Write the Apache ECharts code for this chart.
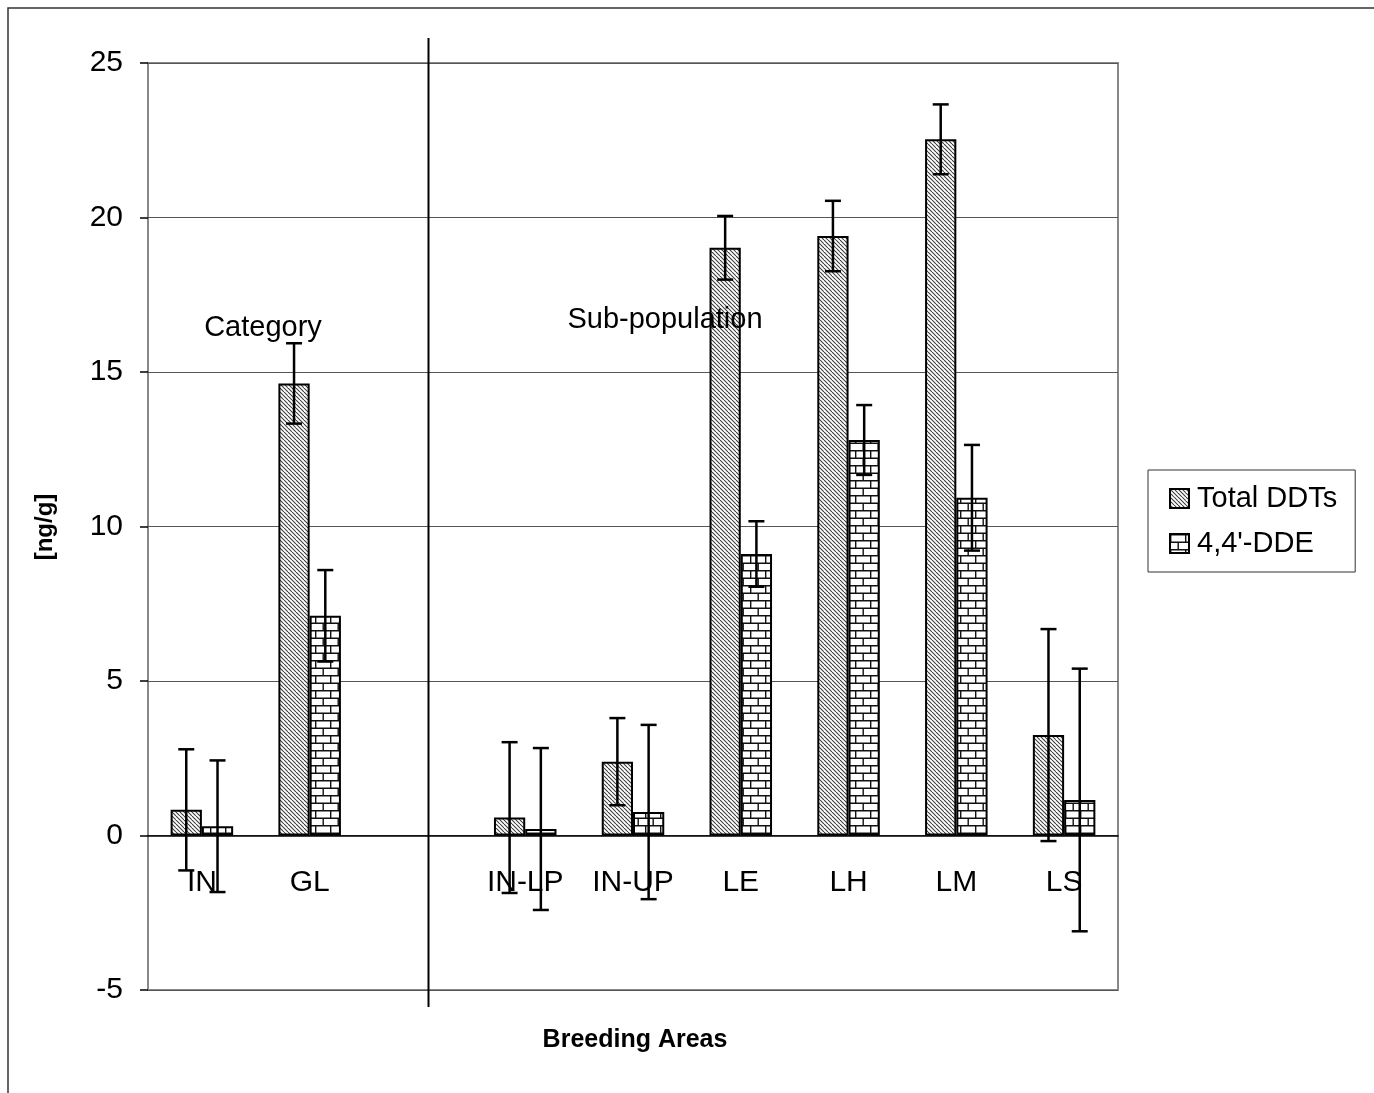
<!DOCTYPE html>
<html>
<head>
<meta charset="utf-8">
<script src="https://cdn.jsdelivr.net/npm/echarts@6/dist/echarts.min.js"></script>
<style>
html, body { margin: 0; padding: 0; background: #fff; }
#main { width: 1374px; height: 1093px; }
</style>
</head>
<body>
<div id="main"></div>
<script>
// data
var categories = ['IN', 'GL', '', 'IN-LP', 'IN-UP', 'LE', 'LH', 'LM', 'LS'];
var totalDDTs = [0.83, 14.63, null, 0.58, 2.39, 19.02, 19.40, 22.53, 3.25];
var totalErr = [1.96, 1.30, null, 2.44, 1.41, 1.03, 1.14, 1.13, 3.43];
var dde = [0.30, 7.11, null, 0.21, 0.76, 9.11, 12.80, 10.93, 1.15];
var ddeErr = [2.13, 1.48, null, 2.62, 2.82, 1.06, 1.13, 1.71, 4.25];
var yMin = -5, yMax = 25, yStep = 5;

var FONT = '"Liberation Sans", Arial, sans-serif';
var BAR_SHARE = 0.29; // each bar, as part of the category band
var GRID = { left: 148, right: 256, top: 63, bottom: 103 };
var plotH = 1093 - GRID.top - GRID.bottom;
// category axis sits on the zero line
var xAxisOffset = -(0 - yMin) / (yMax - yMin) * plotH;

function makeHatch() {
	var c = document.createElement('canvas');
	c.width = 8; c.height = 8;
	var g = c.getContext('2d');
	g.fillStyle = '#fff';
	g.fillRect(0, 0, 8, 8);
	g.strokeStyle = '#3a3a3a';
	g.lineWidth = 1.05;
	for (var k = -8; k <= 16; k += 4) {
		g.beginPath();
		g.moveTo(k, 0);
		g.lineTo(k + 8, 8);
		g.stroke();
	}
	return c;
}

function makeBrick() {
	var c = document.createElement('canvas');
	c.width = 15; c.height = 15;
	var g = c.getContext('2d');
	g.fillStyle = '#fff';
	g.fillRect(0, 0, 15, 15);
	g.strokeStyle = '#111';
	g.lineWidth = 1.4;
	g.beginPath();
	g.moveTo(0, 0.7); g.lineTo(15, 0.7);
	g.moveTo(0, 8.2); g.lineTo(15, 8.2);
	g.moveTo(0.7, 0); g.lineTo(0.7, 8.2);
	g.moveTo(8.2, 8.2); g.lineTo(8.2, 15);
	g.stroke();
	return c;
}

function errData(vals, errs) {
	var out = [];
	for (var i = 0; i < vals.length; i++) {
		if (vals[i] != null) out.push([i, vals[i], errs[i]]);
	}
	return out;
}

function errorBars(side) {
	return function (params, api) {
		var idx = api.value(0);
		var band = api.size([1, 0])[0];
		var dx = side * band * BAR_SHARE / 2;
		var hi = api.coord([idx, api.value(1) + api.value(2)]);
		var lo = api.coord([idx, api.value(1) - api.value(2)]);
		var x = hi[0] + dx;
		var cap = 8;
		var st = { stroke: '#000', lineWidth: 2.5 };
		return {
			type: 'group',
			children: [
				{ type: 'line', shape: { x1: x, y1: hi[1], x2: x, y2: lo[1] }, style: st },
				{ type: 'line', shape: { x1: x - cap, y1: hi[1], x2: x + cap, y2: hi[1] }, style: st },
				{ type: 'line', shape: { x1: x - cap, y1: lo[1], x2: x + cap, y2: lo[1] }, style: st }
			]
		};
	};
}

var chart = echarts.init(document.getElementById('main'));
var hatch = { image: makeHatch(), repeat: 'repeat' };
var brick = { image: makeBrick(), repeat: 'repeat' };

option = {
	animation : false,
	backgroundColor : '#fff',
	textStyle : { fontFamily : FONT },
	grid : {
		left : GRID.left,
		right : GRID.right,
		top : GRID.top,
		bottom : GRID.bottom,
		show : true,
		borderColor : '#888',
		borderWidth : 2,
		backgroundColor : 'transparent'
	},
	legend : {
		orient : 'vertical',
		left : 1148,
		top : 470,
		padding : [ 14, 18, 14, 21 ],
		itemWidth : 19,
		itemHeight : 19,
		itemGap : 16,
		borderColor : '#333',
		borderWidth : 1,
		borderRadius : 0,
		icon : 'rect',
		textStyle : { fontFamily : FONT, fontSize : 29, color : '#000', padding : [ 0, 0, 0, 3 ] },
		data : [ 'Total DDTs', "4,4'-DDE" ]
	},
	xAxis : {
		type : 'category',
		data : categories,
		position : 'bottom',
		offset : xAxisOffset,
		axisLine : { onZero : false, lineStyle : { color : '#000', width : 1.5 } },
		axisTick : { show : false },
		splitLine : { show : false },
		axisLabel : { fontFamily : FONT, fontSize : 30, color : '#000', margin : 32, interval : 0 }
	},
	yAxis : {
		type : 'value',
		min : yMin,
		max : yMax,
		interval : yStep,
		axisLine : { show : false },
		axisTick : { show : true, length : 8, lineStyle : { color : '#000', width : 1.5 } },
		splitLine : { show : true, lineStyle : { color : '#555', width : 1 } },
		axisLabel : { fontFamily : FONT, fontSize : 30, color : '#000', margin : 25 }
	},
	series : [ {
		name : 'Total DDTs',
		type : 'bar',
		data : totalDDTs,
		barGap : '0%',
		barCategoryGap : ((1 - 2 * BAR_SHARE) * 100) + '%',
		itemStyle : { color : hatch, borderColor : '#000', borderWidth : 2 },
		z : 2
	}, {
		name : "4,4'-DDE",
		type : 'bar',
		data : dde,
		itemStyle : { color : brick, borderColor : '#000', borderWidth : 2 },
		z : 2
	}, {
		name : 'err-total',
		type : 'custom',
		data : errData(totalDDTs, totalErr),
		renderItem : errorBars(-1),
		encode : { x : 0, y : 1 },
		z : 5
	}, {
		name : 'err-dde',
		type : 'custom',
		data : errData(dde, ddeErr),
		renderItem : errorBars(1),
		encode : { x : 0, y : 1 },
		z : 5
	} ],
	graphic : [ {
		type : 'rect',
		shape : { x : 8, y : 8, width : 1400, height : 1200 },
		style : { fill : 'none', stroke : '#333', lineWidth : 1.5 },
		silent : true,
		z : 0
	}, {
		type : 'line',
		shape : { x1 : 428.5, y1 : 38, x2 : 428.5, y2 : 1007 },
		style : { stroke : '#000', lineWidth : 2 },
		z : 10
	}, {
		type : 'text',
		x : 263, y : 328,
		style : { text : 'Category', font : '29px ' + FONT, fill : '#000', align : 'center', verticalAlign : 'middle' },
		z : 10
	}, {
		type : 'text',
		x : 665, y : 320,
		style : { text : 'Sub-population', font : '29px ' + FONT, fill : '#000', align : 'center', verticalAlign : 'middle' },
		z : 10
	}, {
		type : 'text',
		x : 635, y : 1040,
		style : { text : 'Breeding Areas', font : 'bold 25px ' + FONT, fill : '#000', align : 'center', verticalAlign : 'middle' },
		z : 10
	}, {
		type : 'text',
		x : 45, y : 527,
		rotation : Math.PI / 2,
		style : { text : '[ng/g]', font : 'bold 24px ' + FONT, fill : '#000', align : 'center', verticalAlign : 'middle' },
		z : 10
	} ]
};

chart.setOption(option);
</script>
</body>
</html>
